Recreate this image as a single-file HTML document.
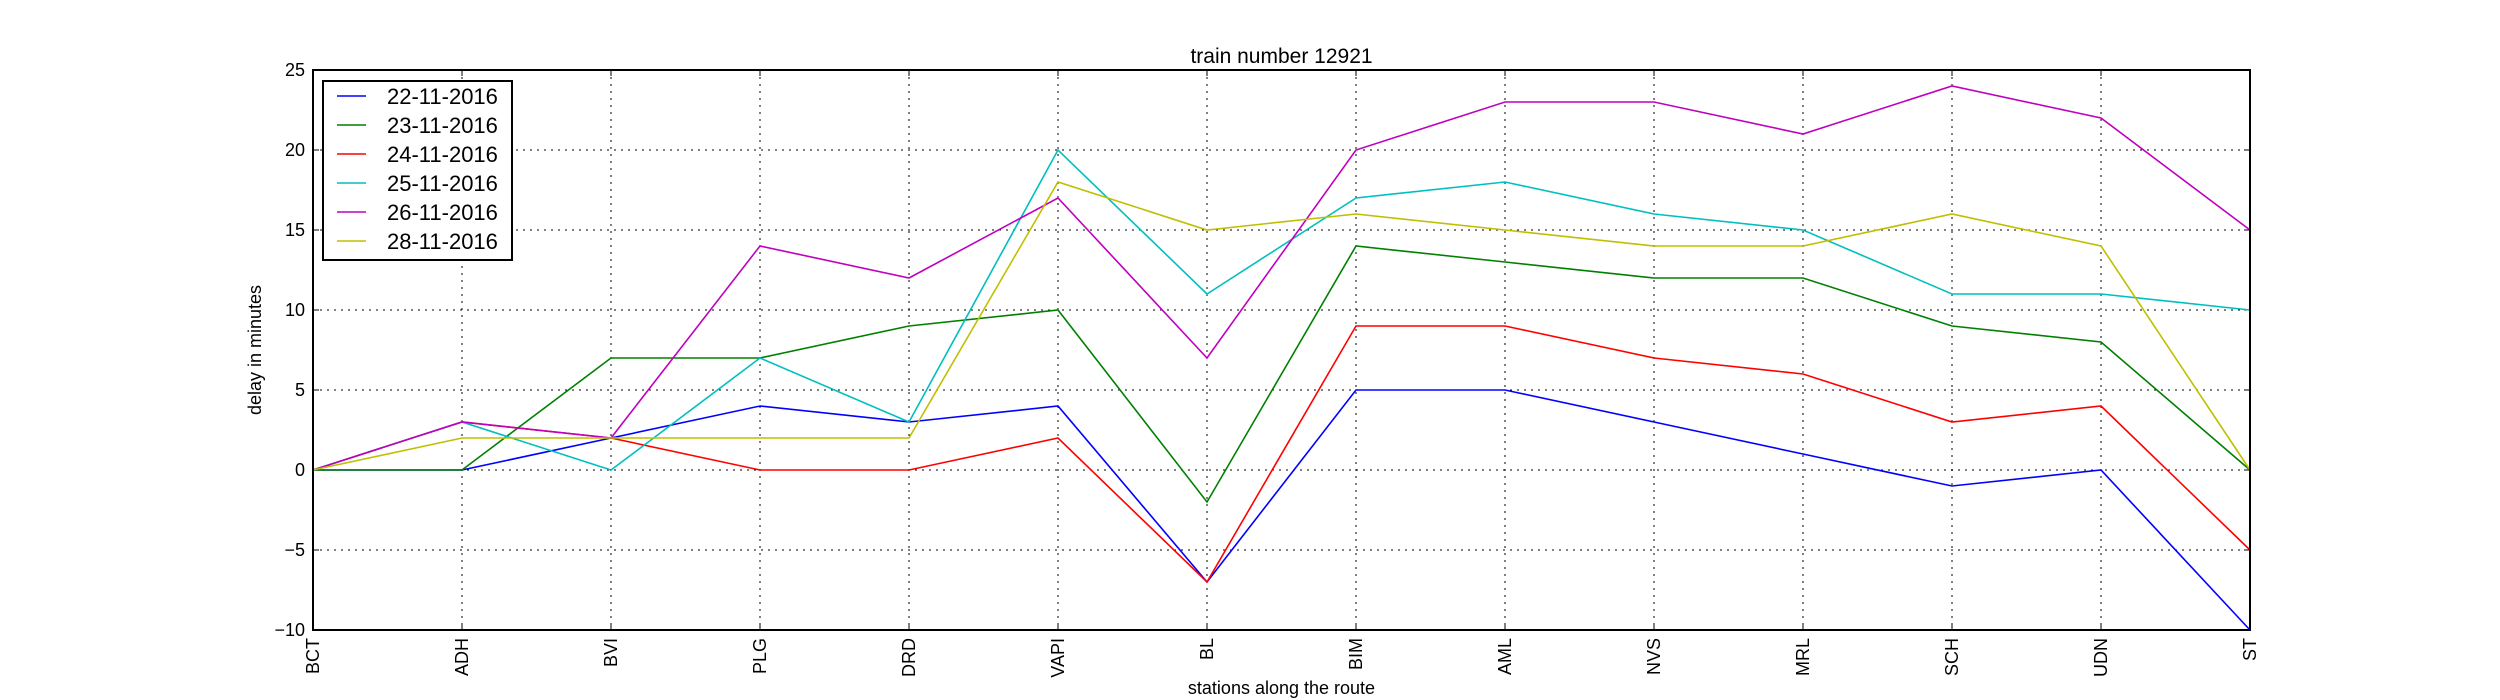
<!DOCTYPE html>
<html><head><meta charset="utf-8"><style>
body{margin:0;background:#fff}
svg{display:block;font-family:"Liberation Sans","DejaVu Sans",sans-serif}
</style></head><body>
<svg id="c" width="2500" height="700"></svg>
<script>
const stations=["BCT","ADH","BVI","PLG","DRD","VAPI","BL","BIM","AML","NVS","MRL","SCH","UDN","ST"];
const seriesNames=["22-11-2016","23-11-2016","24-11-2016","25-11-2016","26-11-2016","28-11-2016"];
const s1=[0,0,2,4,3,4,-7,5,5,3,1,-1,0,-10];
const s2=[0,0,7,7,9,10,-2,14,13,12,12,9,8,0];
const s3=[0,3,2,0,0,2,-7,9,9,7,6,3,4,-5];
const s4=[0,3,0,7,3,20,11,17,18,16,15,11,11,10];
const s5=[0,3,2,14,12,17,7,20,23,23,21,24,22,15];
const s6=[0,2,2,2,2,18,15,16,15,14,14,16,14,0];
const yTicks=[-10,-5,0,5,10,15,20,25];
const colors=["#0000ff","#008000","#ff0000","#00bfbf","#bf00bf","#bfbf00"];
const L=313,R=2250,T=70,B=630,ymin=-10,ymax=25;
const xs=i=>L+(R-L)*i/(stations.length-1);
const ys=v=>B-(B-T)*(v-ymin)/(ymax-ymin);
const svg=document.getElementById('c');const NS="http://www.w3.org/2000/svg";
function mk(t,a,p){const e=document.createElementNS(NS,t);for(const k in a)e.setAttribute(k,a[k]);(p||svg).appendChild(e);return e;}
// grid
stations.forEach((s,i)=>{if(i>0&&i<stations.length-1){const g=mk('line',{x1:xs(i),x2:xs(i),y1:T,y2:B,stroke:'#000','stroke-dasharray':'2,5','stroke-width':1});

}
const t=mk('text',{x:0,y:0,'font-size':18,'text-anchor':'end',transform:`translate(${xs(i)+6},${B+8}) rotate(-90)`});t.textContent=s;


mk('line',{x1:xs(i),x2:xs(i),y1:B,y2:B-6,stroke:'#000'});mk('line',{x1:xs(i),x2:xs(i),y1:T,y2:T+6,stroke:'#000'});});
yTicks.forEach(v=>{if(v>ymin&&v<ymax){const g=mk('line',{x1:L,x2:R,y1:ys(v),y2:ys(v),stroke:'#000','stroke-dasharray':'2,5','stroke-width':1});

}
const t=mk('text',{x:L-8,y:ys(v)+6,'font-size':18,'text-anchor':'end'});t.textContent=v===0?'0':(v<0?'\u2212'+(-v):v);


mk('line',{x1:L,x2:L+6,y1:ys(v),y2:ys(v),stroke:'#000'});mk('line',{x1:R,x2:R-6,y1:ys(v),y2:ys(v),stroke:'#000'});});
[s1,s2,s3,s4,s5,s6].forEach((d,k)=>{const p=mk('polyline',{points:d.map((v,i)=>xs(i)+','+ys(v)).join(' '),fill:'none',stroke:colors[k],'stroke-width':1.6});

});
const fr=mk('rect',{x:L,y:T,width:R-L,height:B-T,fill:'none',stroke:'#000','stroke-width':2});


// legend
const lg=mk('g',{});


mk('rect',{x:323,y:81,width:189,height:179,fill:'#fff',stroke:'#000','stroke-width':2},lg);
seriesNames.forEach((n,k)=>{const y=96+k*29;mk('line',{x1:337,x2:366,y1:y,y2:y,stroke:colors[k],'stroke-width':1.6},lg);
const t=mk('text',{x:387,y:y+8,'font-size':22},lg);t.textContent=n;

});
let t=mk('text',{x:(L+R)/2,y:63,'font-size':21,'text-anchor':'middle'});t.textContent='train number 12921';


t=mk('text',{x:(L+R)/2,y:694,'font-size':18,'text-anchor':'middle'});t.textContent='stations along the route';


t=mk('text',{x:0,y:0,'font-size':18,'text-anchor':'middle',transform:`translate(261,${(T+B)/2}) rotate(-90)`});t.textContent='delay in minutes';


</script>
</body></html>
